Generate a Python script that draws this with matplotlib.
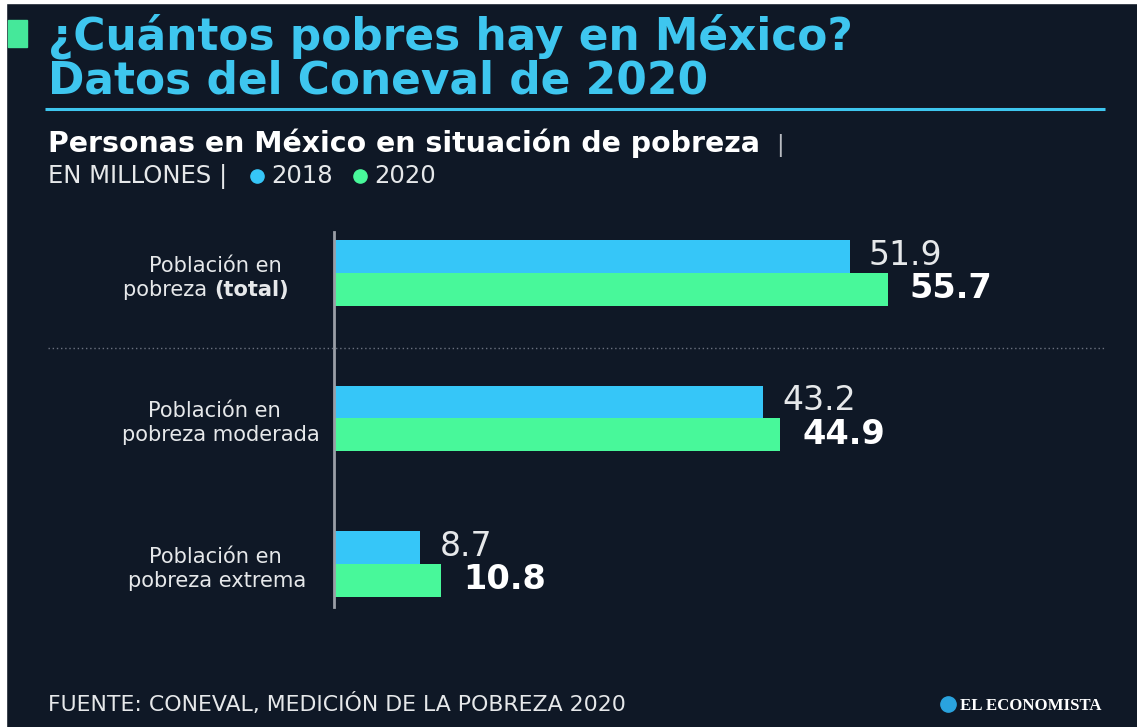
import matplotlib
matplotlib.use("Agg")
import matplotlib.pyplot as plt
from matplotlib.patches import Rectangle
from matplotlib.lines import Line2D

# ---------------- data ----------------
categories_line1 = ["Población en", "Población en", "Población en"]
categories_line2 = ["pobreza", "pobreza moderada", "pobreza extrema"]
category_bold_suffix = ["(total)", "", ""]
years = ["2018", "2020"]
values_2018 = [51.9, 43.2, 8.7]
values_2020 = [55.7, 44.9, 10.8]

title_lines = ["¿Cuántos pobres hay en México?", "Datos del Coneval de 2020"]
subtitle = "Personas en México en situación de pobreza"
units = "EN MILLONES |"
source = "FUENTE: CONEVAL, MEDICIÓN DE LA POBREZA 2020"
brand = "EL ECONOMISTA"

# ---------------- style ----------------
W, H = 1137, 727
BG = "#0f1826"
C18 = "#36c6f8"
C20 = "#48f89a"
TITLE_C = "#3ec6ef"
TXT = "#e6e8ea"

fig = plt.figure(figsize=(W / 100, H / 100), dpi=100)
fig.patch.set_facecolor(BG)
renderer = fig.canvas.get_renderer()


def fx(px):
    return px / W


def fy(py):
    return 1 - py / H


def fit_size(s, width, cap, weight="normal", family="DejaVu Sans", a=0.6):
    t = fig.text(0, 0, s, fontsize=20, fontweight=weight, family=family)
    bb = t.get_window_extent(renderer)
    t.remove()
    size_w = 20 * width / bb.width
    size_h = cap / 0.729 * 72 / 100
    return size_w ** a * size_h ** (1 - a)


def ftext(x, y, s, size, ha="left", va="baseline", **kw):
    return fig.text(fx(x), fy(y), s, fontsize=size, ha=ha, va=va, **kw)


def width_px(t):
    return t.get_window_extent(renderer).width


# white edge strips of the original screenshot
fig.add_artist(Rectangle((0, 0), fx(6), 1, transform=fig.transFigure, color="white", zorder=0))
fig.add_artist(Rectangle((0, fy(3)), 1, 1 - fy(3), transform=fig.transFigure, color="white", zorder=0))

# green marker square
fig.add_artist(Rectangle((fx(8), fy(47)), fx(27) - fx(8), fy(20) - fy(47),
                         transform=fig.transFigure, color="#45e89a"))

# title
st = fit_size(title_lines[0], 952, 25, weight="bold", a=0.6)
ftext(48, 49, title_lines[0], st, color=TITLE_C, fontweight="bold")
ftext(48, 94, title_lines[1], st, color=TITLE_C, fontweight="bold")

# cyan rule
fig.add_artist(Line2D([fx(45), fx(1105)], [fy(109), fy(109)], transform=fig.transFigure,
                      color=TITLE_C, lw=2.2, solid_capstyle="butt"))

# subtitle
ss = fit_size(subtitle, 844, 16, weight="bold")
t = ftext(48, 152, subtitle, ss, color="white", fontweight="bold")
ftext(48 + width_px(t) + 16, 152, "|", ss * 0.8, color="#b9bcc2")

su = fit_size(units, 204, 13, a=0.7)
t = ftext(48, 183, units, su, color=TXT)
x_leg = 48 + width_px(t) + 30
for yr, col in zip(years, [C18, C20]):
    fig.add_artist(Line2D([fx(x_leg)], [fy(176)], transform=fig.transFigure, marker="o",
                          markersize=9.5, color=col, lw=0))
    t = ftext(x_leg + 14, 183, yr, su, color=TXT)
    x_leg = x_leg + 14 + width_px(t) + 27

# dotted separator
fig.add_artist(Line2D([fx(48), fx(1105)], [fy(348), fy(348)], transform=fig.transFigure,
                      color="#6b7280", lw=1.0, linestyle=(0, (1, 2))))

# ---------------- bars ----------------
ax = fig.add_axes([fx(334), fy(607), (1105 - 334) / W, (607 - 232) / H])
ax.set_facecolor("none")
px_per_unit = 9.94
ax.set_xlim(0, (1105 - 334) / px_per_unit)
ax.set_ylim(2.296, -0.282)
bh = 0.226
ypos = list(range(len(values_2018)))
ax.barh([y - bh / 2 for y in ypos], values_2018, height=bh, color=C18, lw=0)
ax.barh([y + bh / 2 for y in ypos], values_2020, height=bh, color=C20, lw=0)
for s in ["top", "right", "bottom"]:
    ax.spines[s].set_visible(False)
ax.spines["left"].set_color("#9a9ea6")
ax.spines["left"].set_linewidth(2)
ax.set_xticks([])
ax.set_yticks([])

sv18 = fit_size("51.9", 82, 19, a=0.7)
sv20 = fit_size("55.7", 91, 20, weight="bold", a=0.7)
for y, v in zip(ypos, values_2018):
    ax.annotate(f"{v}", xy=(v, y - bh / 2), xytext=(19, -8), textcoords="offset pixels",
                fontsize=sv18, color=TXT, va="baseline", ha="left")
for y, v in zip(ypos, values_2020):
    ax.annotate(f"{v}", xy=(v, y + bh / 2), xytext=(22, -9), textcoords="offset pixels",
                fontsize=sv20, color="white", fontweight="bold", va="baseline", ha="left")

# category labels (line centres)
sc = fit_size("pobreza moderada", 200, 14, a=0.9)
centers_px = [273, 418, 564]
line1_cx = [215, 214, 215]
line2_cx = [206, 221, 217]
for i, cy in enumerate(centers_px):
    ftext(line1_cx[i], cy - 1, categories_line1[i], sc, ha="center", color=TXT)
    if category_bold_suffix[i]:
        ta = ftext(0, 0, categories_line2[i] + " ", sc)
        tb = ftext(0, 0, category_bold_suffix[i], sc, fontweight="bold")
        wa, wb = width_px(ta), width_px(tb)
        ta.remove()
        tb.remove()
        x0 = line2_cx[i] - (wa + wb) / 2
        ftext(x0, cy + 23, categories_line2[i] + " ", sc, color=TXT)
        ftext(x0 + wa, cy + 23, category_bold_suffix[i], sc, color=TXT, fontweight="bold")
    else:
        ftext(line2_cx[i], cy + 23, categories_line2[i], sc, ha="center", color=TXT)

# footer
sf = fit_size(source, 584, 13, a=0.95)
ftext(48, 711, source, sf, color=TXT)
sb = fit_size(brand, 142, 12, weight="bold", family="Liberation Serif", a=0.7)
ftext(1102, 710, brand, sb, ha="right", color="white", fontweight="bold", family="Liberation Serif")
fig.add_artist(Line2D([fx(948)], [fy(704)], transform=fig.transFigure, marker="o",
                      markersize=11, color="#2aa3de", lw=0))

fig.savefig("out.png", dpi=100, facecolor=BG)
